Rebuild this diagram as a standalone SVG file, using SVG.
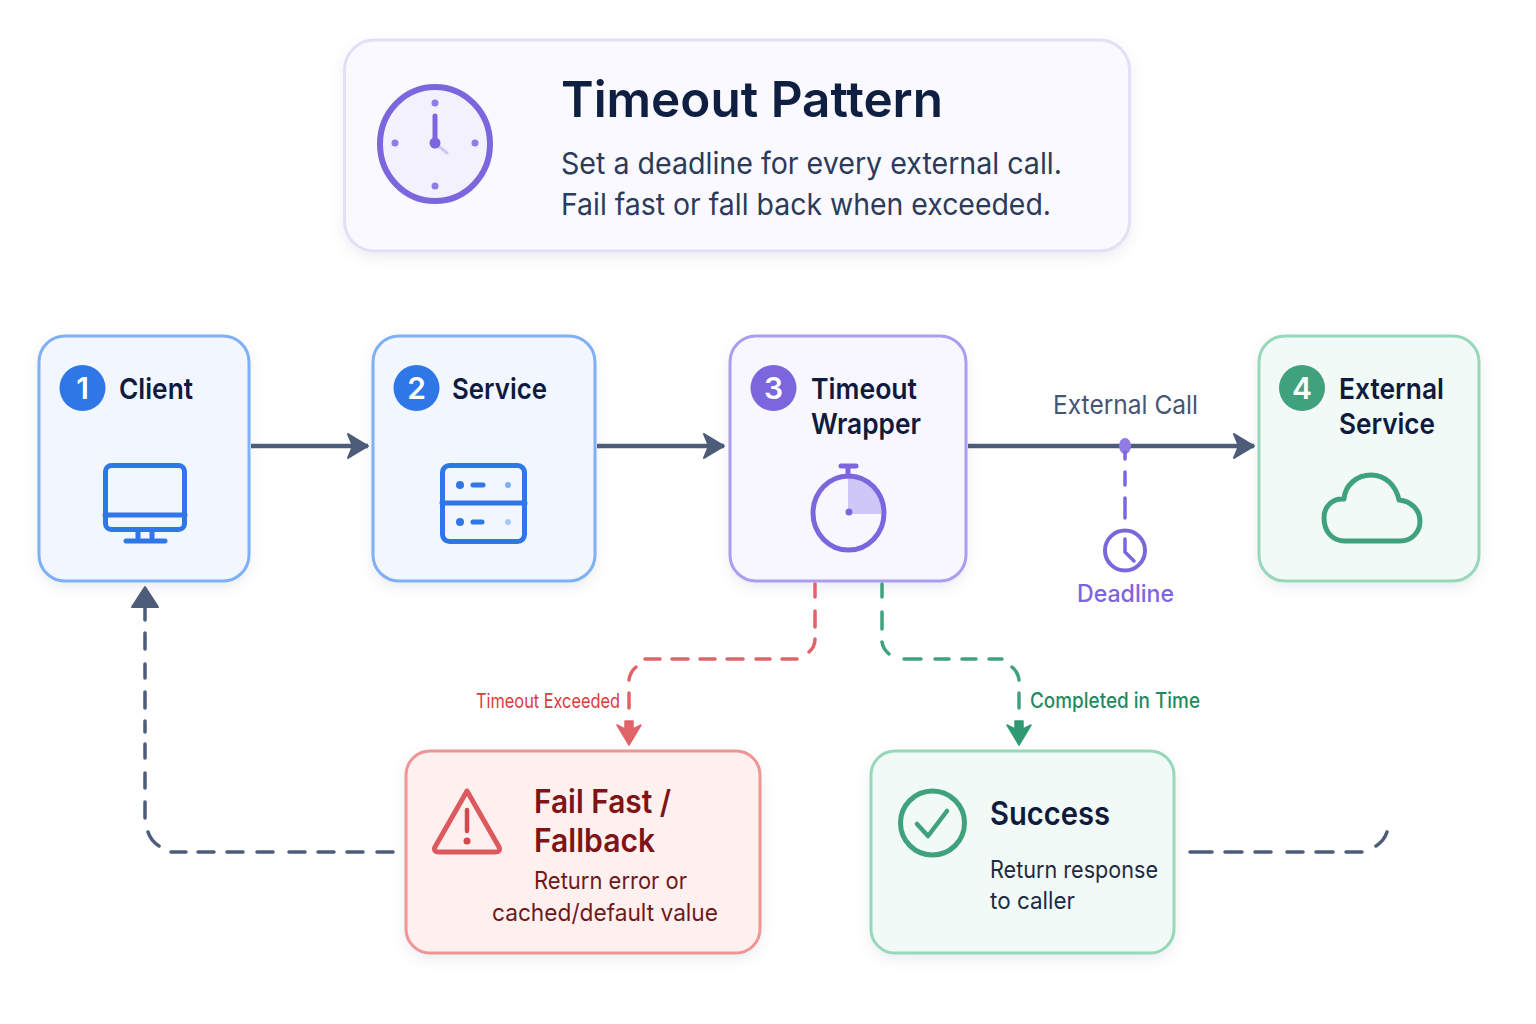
<svg xmlns="http://www.w3.org/2000/svg" width="1536" height="1024" viewBox="0 0 1536 1024">
<style>
text{font-family:Inter,"Liberation Sans",sans-serif}
.card{stroke-width:3}
.t{font-size:29px;font-weight:600;fill:#0f1a3c}
.num{font-size:30px;font-weight:600;fill:#fff;text-anchor:middle}
.flow{fill:none;stroke:#4d5c78;stroke-width:4.500}
.dash{fill:none;stroke-width:3.500;stroke-linecap:round}
.ic{fill:none;stroke-width:5;stroke-linecap:round;stroke-linejoin:round}
.bl{stroke:#2f76e6}.pu{stroke:#7c66de}.gr{stroke:#3fa27c}
</style>
<defs>
<filter id="sh" x="-10%" y="-10%" width="120%" height="125%"><feDropShadow dx="0" dy="5" stdDeviation="6" flood-color="#64748b" flood-opacity=".13"/></filter>
<marker id="ah" viewBox="0 0 24 28" refX="22" refY="14" markerWidth="24" markerHeight="28" markerUnits="userSpaceOnUse" orient="auto"><path d="M2 2L22 14L2 26L7 14Z" fill="#4d5c78" stroke="#4d5c78" stroke-width="2" stroke-linejoin="round"/></marker>
</defs>
<rect width="1536" height="1024" fill="#fff"/>

<g id="header">
<rect class="card" x="344.500" y="40" width="785" height="211" rx="30" fill="#faf9ff" stroke="#e3dff7" filter="url(#sh)"/>
<ellipse cx="435" cy="144" rx="55" ry="57" fill="#f3f1fd" stroke="#7c66de" stroke-width="6"/>
<circle cx="435" cy="103" r="3.500" fill="#8f7de4"/><circle cx="435" cy="186" r="3.500" fill="#8f7de4"/><circle cx="395" cy="143" r="3.500" fill="#8f7de4"/><circle cx="475" cy="143" r="3.500" fill="#8f7de4"/>
<path d="M435 116V143" stroke="#7c66de" stroke-width="5" stroke-linecap="round"/>
<path d="M436 144L447 153" stroke="#cfc8f3" stroke-width="3" stroke-linecap="round"/>
<circle cx="435" cy="143" r="5.500" fill="#7c66de"/>
<text x="561" y="117" font-size="50" font-weight="600" fill="#0f1f42" textLength="382" lengthAdjust="spacingAndGlyphs">Timeout Pattern</text>
<text x="561" y="174" font-size="30" fill="#2c3b58" textLength="501" lengthAdjust="spacingAndGlyphs">Set a deadline for every external call.</text>
<text x="561" y="215" font-size="30" fill="#2c3b58" textLength="490" lengthAdjust="spacingAndGlyphs">Fail fast or fall back when exceeded.</text>
</g>

<g id="client">
<rect class="card" x="39" y="336" width="210" height="245" rx="26" fill="#f1f6ff" stroke="#7fb0f5" filter="url(#sh)"/>
<circle cx="82.500" cy="388" r="23" fill="#2f76e6"/>
<text class="num" x="82.500" y="399">1</text>
<text class="t" x="119" y="399" textLength="74" lengthAdjust="spacingAndGlyphs">Client</text>
<rect class="ic bl" x="105.500" y="465.500" width="79" height="64" rx="6"/>
<path class="ic bl" stroke-width="4" d="M105 515H185M138 530V540M152 530V540M126 541H165"/>
</g>

<g id="service">
<rect class="card" x="373" y="336" width="222" height="245" rx="26" fill="#f1f6ff" stroke="#7fb0f5" filter="url(#sh)"/>
<circle cx="416.500" cy="388" r="23" fill="#2f76e6"/>
<text class="num" x="416.500" y="399">2</text>
<text class="t" x="452" y="399" textLength="95" lengthAdjust="spacingAndGlyphs">Service</text>
<rect class="ic bl" x="442.500" y="465.500" width="82" height="76" rx="7"/>
<path class="ic bl" d="M442 503H525M473 485H483M473 522H482"/>
<circle cx="460" cy="485" r="4" fill="#2f76e6"/><circle cx="460" cy="522" r="4" fill="#2f76e6"/>
<circle cx="508" cy="485" r="3" fill="#7fb0f5"/><circle cx="508" cy="522" r="3" fill="#a9caf8"/>
</g>

<g id="wrapper">
<rect class="card" x="730" y="336" width="236" height="245" rx="26" fill="#f8f6ff" stroke="#ab9df0" filter="url(#sh)"/>
<circle cx="773.500" cy="388" r="23" fill="#7c66de"/>
<text class="num" x="773.500" y="399">3</text>
<text class="t" x="811" y="399" textLength="106" lengthAdjust="spacingAndGlyphs">Timeout</text>
<text class="t" x="811" y="434" textLength="110" lengthAdjust="spacingAndGlyphs">Wrapper</text>
<path d="M848 477A35 37 0 0 1 883 514H848Z" fill="#cfc7f6"/>
<ellipse class="ic pu" cx="848.500" cy="513" rx="35.500" ry="37"/>
<path class="ic pu" d="M848 467V476M841 466H856"/>
<circle cx="849" cy="512" r="3.500" fill="#7c66de"/>
</g>

<g id="external">
<rect class="card" x="1259" y="336" width="220" height="245" rx="26" fill="#f1faf6" stroke="#97d7bb" filter="url(#sh)"/>
<circle cx="1302" cy="388" r="23" fill="#3fa27c"/>
<text class="num" x="1302" y="399">4</text>
<text class="t" x="1339" y="399" textLength="105" lengthAdjust="spacingAndGlyphs">External</text>
<text class="t" x="1339" y="434" textLength="96" lengthAdjust="spacingAndGlyphs">Service</text>
<path class="ic gr" d="M1345 541C1331 541 1324 530 1324 518C1324 506 1333 498 1344 499C1345 485 1357 475 1371 475C1386 475 1396 486 1399 500C1411 501 1420 510 1420 521C1420 532 1412 541 1400 541Z"/>
</g>

<g id="deadline">
<circle cx="1125" cy="550.500" r="20" fill="none" stroke="#7c66de" stroke-width="4"/>
<path d="M1125 539V552L1134 561" fill="none" stroke="#7c66de" stroke-width="3.500" stroke-linecap="round" stroke-linejoin="round"/>
<text x="1077" y="602" font-size="24" font-weight="500" fill="#7c66de" textLength="97" lengthAdjust="spacingAndGlyphs">Deadline</text>
</g>

<g id="failfast">
<rect class="card" x="406" y="751" width="354" height="202" rx="24" fill="#fff0f0" stroke="#f09595" filter="url(#sh)"/>
<path d="M467 791L499 847Q501 852 495 852H439Q433 852 435 847Z" fill="none" stroke="#dc5a5e" stroke-width="5" stroke-linejoin="round"/>
<path d="M467 810V831" stroke="#d9464b" stroke-width="4.500" stroke-linecap="round"/>
<circle cx="467" cy="841" r="3.500" fill="#d9464b"/>
<text x="534" y="813" font-size="32" font-weight="600" fill="#7f1414" textLength="137" lengthAdjust="spacingAndGlyphs">Fail Fast /</text>
<text x="534" y="852" font-size="32" font-weight="600" fill="#7f1414" textLength="121" lengthAdjust="spacingAndGlyphs">Fallback</text>
<text x="534" y="889" font-size="24" fill="#6f1a1a" textLength="153" lengthAdjust="spacingAndGlyphs">Return error or</text>
<text x="492" y="921" font-size="24" fill="#6f1a1a" textLength="226" lengthAdjust="spacingAndGlyphs">cached/default value</text>
</g>

<g id="success">
<rect class="card" x="871" y="751" width="303" height="202" rx="24" fill="#f1faf6" stroke="#97d7bb" filter="url(#sh)"/>
<circle cx="932.500" cy="823" r="32" fill="none" stroke="#3fa27c" stroke-width="5"/>
<path d="M917 824L928 836L947 811" fill="none" stroke="#3fa27c" stroke-width="4.500" stroke-linecap="round" stroke-linejoin="round"/>
<text x="990" y="825" font-size="32" font-weight="600" fill="#0f1a3c" textLength="120" lengthAdjust="spacingAndGlyphs">Success</text>
<text x="990" y="878" font-size="24" fill="#1f2a44" textLength="168" lengthAdjust="spacingAndGlyphs">Return response</text>
<text x="990" y="909" font-size="24" fill="#1f2a44" textLength="85" lengthAdjust="spacingAndGlyphs">to caller</text>
</g>

<g id="connectors">
<path class="flow" d="M251 446H368" marker-end="url(#ah)"/>
<path class="flow" d="M597 446H724" marker-end="url(#ah)"/>
<path class="flow" d="M968 446H1254" marker-end="url(#ah)"/>
<text x="1053" y="414" font-size="26" fill="#465573" textLength="145" lengthAdjust="spacingAndGlyphs">External Call</text>
<ellipse cx="1125" cy="446" rx="6" ry="8" fill="#8f7de4"/>
<path class="dash" stroke="#7c66de" d="M1125 452V459M1125 472V485M1125 498V518"/>

<path class="dash" stroke="#e0636a" d="M815 584V597M815 611V627M815 639Q815 647 809 652M797 659H782M770 659H756M743 659H727M715 659H700M688 659H672M660 659H645M636 667Q630 672 629 680M629 693V708"/>
<path d="M629 745L617 725L625 729V721H633V729L641 725Z" fill="#e0636a" stroke="#e0636a" stroke-width="1.500" stroke-linejoin="round"/>
<text x="476" y="708" font-size="20" fill="#dc3a40" textLength="144" lengthAdjust="spacingAndGlyphs">Timeout Exceeded</text>

<path class="dash" stroke="#3fa27c" d="M882 584V597M882 612V629M882 642Q883 649 889 654M904 659H921M935 659H949M962 659H976M989 659H1002M1012 667Q1018 672 1019 680M1019 693V708"/>
<path d="M1019 745L1007 725L1015 729V721H1023V729L1031 725Z" fill="#2f9a72" stroke="#2f9a72" stroke-width="1.500" stroke-linejoin="round"/>
<text x="1030" y="708" font-size="21" font-weight="500" fill="#1f8a62" textLength="170" lengthAdjust="spacingAndGlyphs">Completed in Time</text>

<path class="dash" stroke="#4d5c78" d="M393 852H377M363 852H347M334 852H318M305 852H289M273 852H257M243 852H227M214 852H198M186 852H171M159 846Q151 841 148 832M145 818V802M145 788V773M145 758V744M145 732V721M145 708V692M145 678V664M145 649V633"/>
<path d="M145 587L158 607H132Z" fill="#4d5c78" stroke="#4d5c78" stroke-width="2" stroke-linejoin="round"/>
<path d="M145 606V620" stroke="#4d5c78" stroke-width="3.500" stroke-linecap="round"/>
<path class="dash" stroke="#4d5c78" d="M1190 852H1212M1225 852H1242M1255 852H1271M1287 852H1303M1316 852H1333M1346 852H1362M1376 846Q1384 841 1387 832"/>
</g>
</svg>
